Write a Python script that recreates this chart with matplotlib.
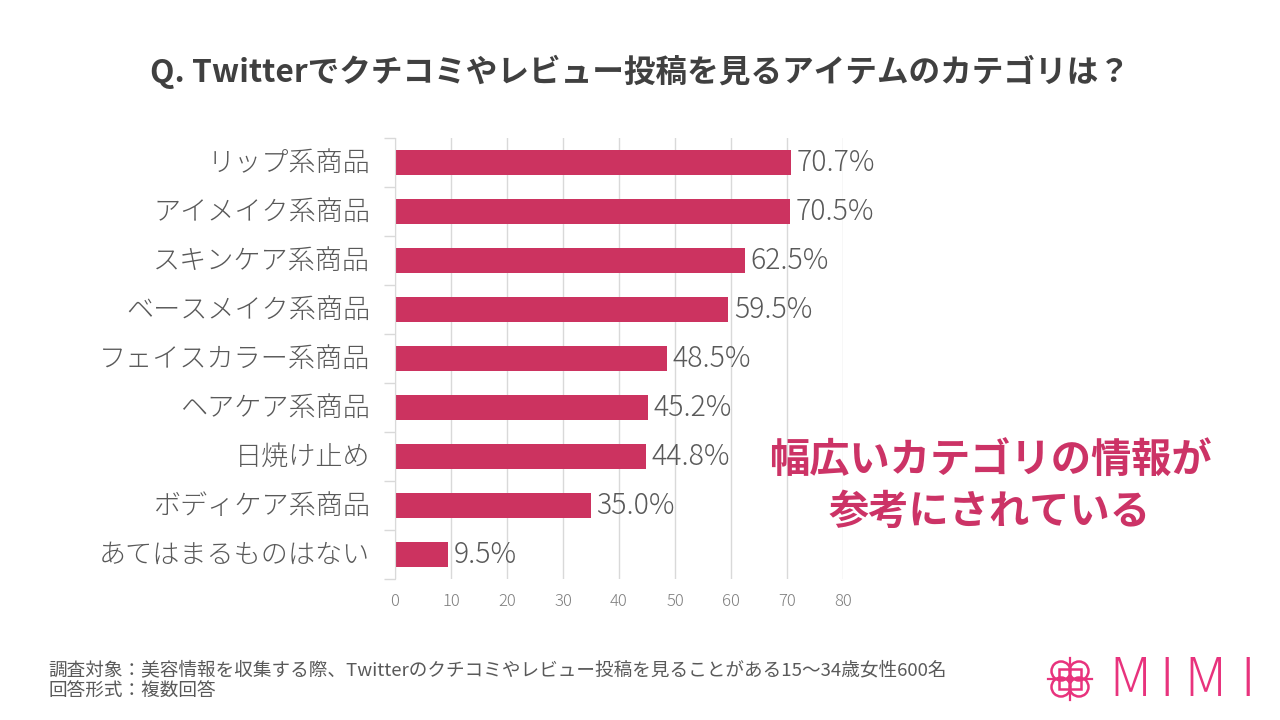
import matplotlib
matplotlib.use("Agg")
import matplotlib.pyplot as plt
from matplotlib.patches import Circle, Rectangle
import numpy as np

plt.rcParams['font.family'] = ['Noto Sans CJK JP', 'DejaVu Sans']

categories = ["リップ系商品", "アイメイク系商品", "スキンケア系商品", "ベースメイク系商品",
              "フェイスカラー系商品", "ヘアケア系商品", "日焼け止め", "ボディケア系商品",
              "あてはまるものはない"]
values = [70.7, 70.5, 62.5, 59.5, 48.5, 45.2, 44.8, 35.0, 9.5]
xticks = [0, 10, 20, 30, 40, 50, 60, 70, 80]

title = "Q. Twitterでクチコミやレビュー投稿を見るアイテムのカテゴリは？"
note1 = "調査対象：美容情報を収集する際、Twitterのクチコミやレビュー投稿を見ることがある15～34歳女性600名"
note2 = "回答形式：複数回答"
callout = "幅広いカテゴリの情報が\n参考にされている"
logo_letters = ["M", "I", "M", "I"]

bar_color = "#CC3360"
text_gray = "#595959"
grid_gray = "#D9D9D9"

fig = plt.figure(figsize=(12.8, 7.2), dpi=100)
ax = fig.add_axes([395/1280, 1-579/720, 448/1280, 441/720])

y = np.arange(len(categories))
ax.barh(y, values, height=0.5, color=bar_color, zorder=3)
ax.set_ylim(len(categories)-0.5, -0.5)
ax.set_xlim(0, 80)
ax.set_xticks(xticks)
ax.set_xticklabels([str(t) for t in xticks], fontsize=12, color="#7F7F7F",
                   fontweight='light')
ax.tick_params(axis='x', length=0, pad=10)
ax.grid(axis='x', color=grid_gray, linewidth=1, zorder=0)
for s in ['top', 'right', 'bottom']:
    ax.spines[s].set_visible(False)
ax.spines['left'].set_color(grid_gray)
ax.spines['left'].set_zorder(4)

# category boundary ticks
ax.set_yticks(np.arange(-0.5, len(categories)), minor=False)
ax.set_yticklabels([])
ax.tick_params(axis='y', length=8, color=grid_gray, width=1)
for i, c in enumerate(categories):
    ax.annotate(c, xy=(0, i), xycoords=('axes fraction', 'data'), xytext=(-18, 0),
                textcoords='offset points', ha='right', va='center', fontsize=19.5,
                color=text_gray, fontweight='light')

for i, v in enumerate(values):
    ax.annotate(f"{v:.1f}%", xy=(v, i), xytext=(4, 0), textcoords='offset points',
                ha='left', va='center', fontsize=20.5, color=text_gray,
                fontweight='light', zorder=5)

fig.text(0.5, 1-72/720, title, ha='center', va='center', fontsize=22.8,
         fontweight='bold', color="#404040")

fig.text(990/1280, 1-487/720, callout, ha='center', va='center', fontsize=29,
         fontweight='bold', color="#CC3366", linespacing=1.32)

fig.text(48/1280, 1-670/720, note1, ha='left', va='center', fontsize=13.4, color=text_gray)
fig.text(48/1280, 1-692/720, note2, ha='left', va='center', fontsize=13.4, color=text_gray)

# logo
logo_color = "#E8337D"
lax = fig.add_axes([1045/1280, 1-704/720, 50/1280, 50/720])
lax.set_xlim(0, 50); lax.set_ylim(0, 50); lax.set_aspect('equal'); lax.axis('off')
for cx, cy in [(16, 33), (34, 33), (16, 17), (34, 17)]:
    lax.add_patch(Circle((cx, cy), 9.5, fill=False, edgecolor=logo_color, linewidth=1.8))
lax.add_patch(Rectangle((14, 15), 22, 20, fill=False, edgecolor=logo_color, linewidth=1.8))
lax.plot([3, 47], [25, 25], color=logo_color, lw=1.6)
lax.plot([25, 25], [4, 46], color=logo_color, lw=1.6)
for letter, xc in zip(logo_letters, [1130, 1167, 1205, 1248]):
    fig.text(xc/1280, 1-681/720, letter, ha='center', va='center', fontsize=38,
             color=logo_color, fontweight='light')

fig.savefig("out.png", dpi=100)
